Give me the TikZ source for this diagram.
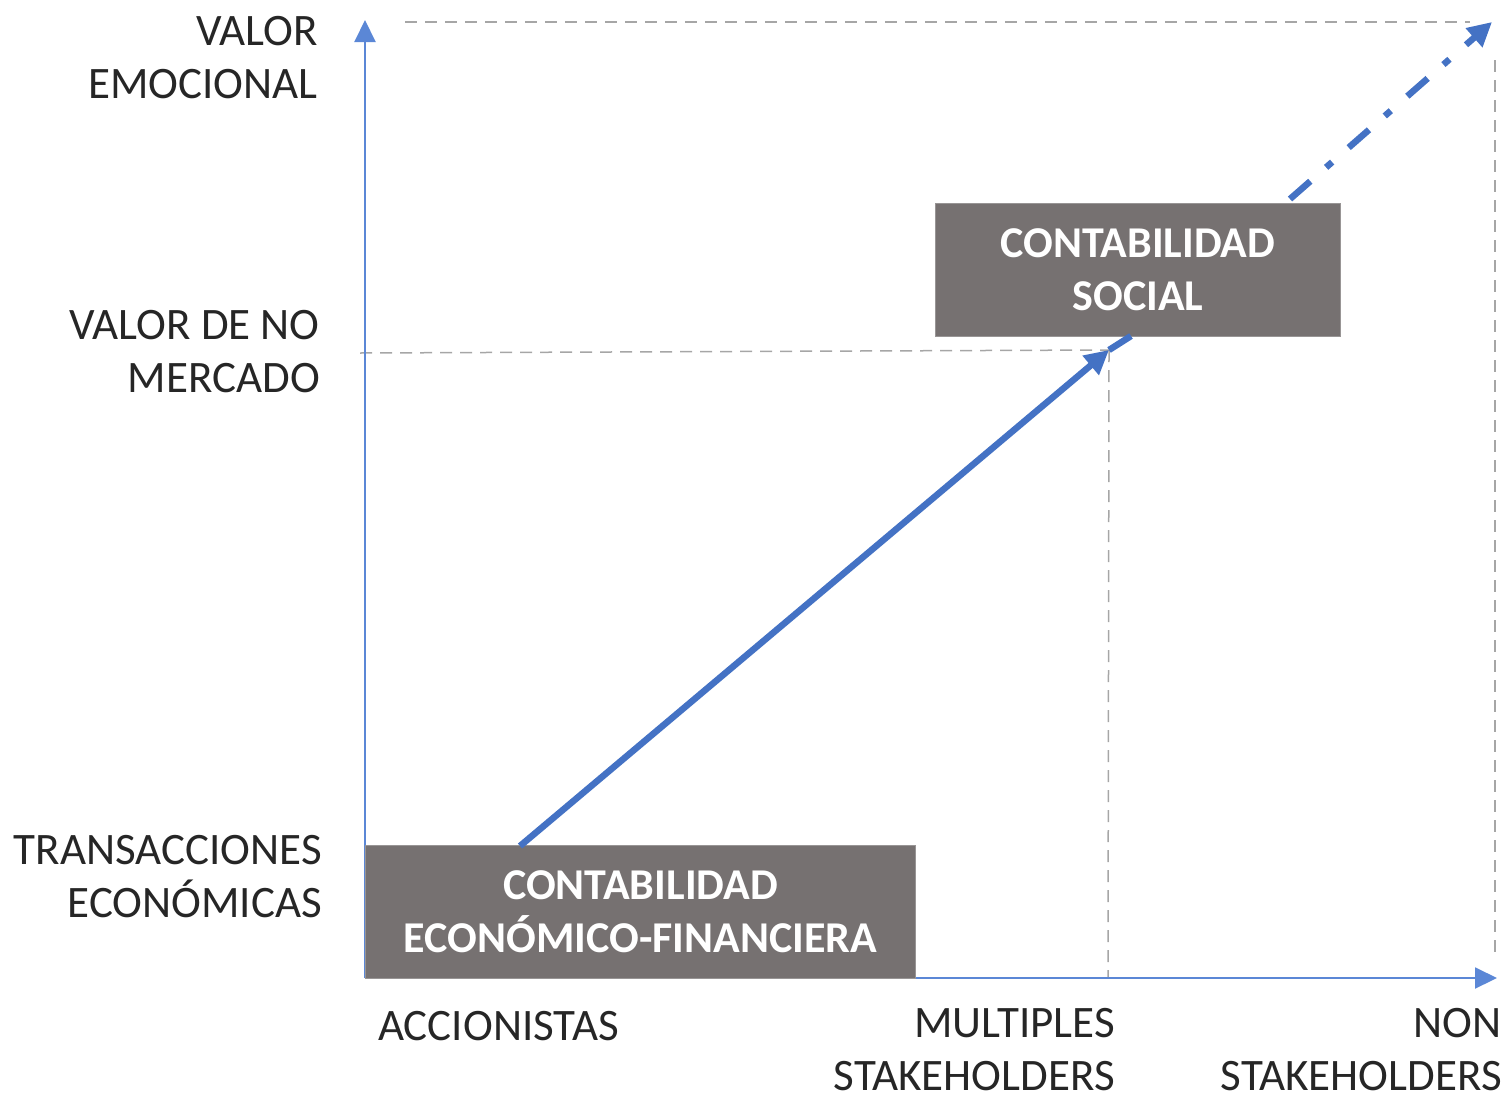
\documentclass[tikz,border=0pt]{standalone}
\usepackage{fontspec}
\setmainfont{Carlito}
\usetikzlibrary{arrows.meta}
\definecolor{myblue}{HTML}{4472C4}
\definecolor{axisblue}{HTML}{5B87D6}
\definecolor{boxgray}{HTML}{767171}
\definecolor{dashgray}{HTML}{A6A6A6}
\begin{document}
\begin{tikzpicture}[x=1pt,y=-1pt,
  lbl/.style={font=\fontsize{45}{53}\selectfont, inner sep=0pt, align=right, text=black!85},
  box/.style={fill=boxgray, draw=boxgray!75, line width=1pt, text=white, font=\fontsize{44}{53}\selectfont\bfseries, align=center, inner sep=0pt},
  axis/.style={axisblue, line width=2pt, -{Triangle[length=22pt,width=21pt]}},
  guide/.style={dashgray, line width=1.5pt, dash pattern=on 12pt off 8pt},
  mainarrow/.style={myblue, line width=6.5pt, -{Triangle[length=24pt,width=24pt]}},
  mainline/.style={myblue, line width=6.5pt},
  future/.style={myblue, line width=6.5pt, dash pattern=on 27pt off 21pt on 8pt off 22pt, -{Triangle[length=24pt,width=24pt]}}]
\useasboundingbox (0,0) rectangle (1506,1100);
% coordinates
\coordinate (O) at (365,978);
\coordinate (ytop) at (365,20);
\coordinate (xend) at (1497,978);
\coordinate (tl) at (405,22);
\coordinate (tr) at (1470,22);
\coordinate (rt) at (1495,60);
\coordinate (rb) at (1495,952);
\coordinate (hl) at (360,353);
\coordinate (m) at (1109,350);
\coordinate (vb) at (1108,978);
\coordinate (s1) at (520,846);
\coordinate (d2) at (1492,22);
% guides
\draw[guide] (tl) -- (tr);
\draw[guide] (rt) -- (rb);
\draw[guide] (hl) -- (m);
\draw[guide] (m) -- (vb);
% axes
\draw[axis] (O) -- (ytop);
\draw[axis] (O) -- (xend);
% boxes
\node[box, minimum width=550pt, minimum height=133pt, anchor=north west] (b1) at (365,845) {CONTABILIDAD\\ECONÓMICO-FINANCIERA};
\node[box, minimum width=405pt, minimum height=133pt, anchor=north west] (b2) at (935,203) {CONTABILIDAD\\SOCIAL};
\coordinate (e1) at (1131,336);
\coordinate (d1) at (1290,199);
% arrows
\draw[mainarrow] (s1) -- (m);
\draw[mainline] (m) -- (e1);
\draw[future] (d1) -- (d2);
% labels
\node[lbl, anchor=east] (lv) at (318,58) {VALOR\\EMOCIONAL};
\node[lbl, anchor=east] (ln) at (320,352) {VALOR DE NO\\MERCADO};
\node[lbl, anchor=east] (lt) at (322,877) {TRANSACCIONES\\ECONÓMICAS};
\node[lbl, anchor=west] (la) at (378,1026) {ACCIONISTAS};
\node[lbl, anchor=east] (lm) at (1115,1050) {MULTIPLES\\STAKEHOLDERS};
\node[lbl, anchor=east] (lnon) at (1502,1050) {NON\\STAKEHOLDERS};
\end{tikzpicture}
\end{document}
